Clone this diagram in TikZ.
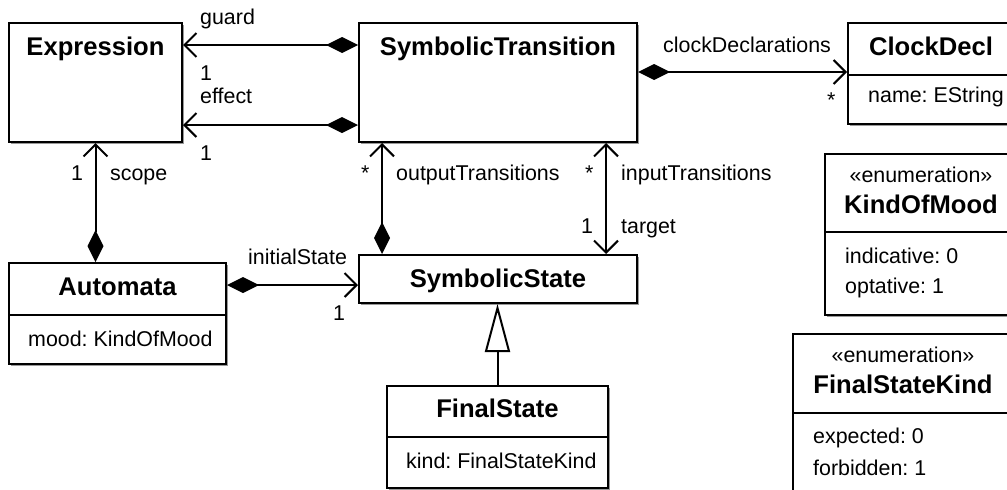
\documentclass[tikz,border=0pt]{standalone}
\usepackage{fontspec}
\setmainfont{Liberation Sans}
\frenchspacing
\usetikzlibrary{arrows.meta,shadows}

\begin{document}
\begin{tikzpicture}[x=1pt, y=-1pt,
  umlbox/.style={draw, line width=2pt, fill=white, inner sep=0pt,
    drop shadow={shadow xshift=2pt, shadow yshift=-2pt, fill=black!40, opacity=1}},
  ttl/.style={font=\fontsize{25.6}{30}\selectfont\bfseries, inner sep=0pt, anchor=base},
  txt/.style={font=\fontsize{21.4}{25}\selectfont, inner sep=0pt, anchor=base west},
  divider/.style={line width=2pt},
  comp/.style={line width=2pt, {Diamond[length=32pt, width=16pt]}-{Straight Barb[length=12pt, width=24pt]}},
  nav/.style={line width=2pt, {Straight Barb[length=12pt, width=24pt]}-{Straight Barb[length=12pt, width=24pt]}},
  gen/.style={line width=2pt, -{Triangle[open, length=48pt, width=25pt, fill=white]}}]
        \useasboundingbox (0,0) rectangle (1007,490);
        \clip (0,0) rectangle (1007,490);

        % Classes
        \node[umlbox, minimum width=173, minimum height=119] (expr) at (95.5,82.5) {};
        \node[ttl] (exprname) at (expr.center |- 0,55) {Expression};

        \node[umlbox, minimum width=278, minimum height=119] (trans) at (498,82.5) {};
        \node[ttl] (transname) at (trans.center |- 0,55) {SymbolicTransition};

        \node[umlbox, minimum width=166, minimum height=101] (clock) at (931,73.5) {};
        \node[ttl] (clockname) at (clock.center |- 0,55) {ClockDecl};
        \draw[divider] (clock.west |- 0,75) -- (clock.east |- 0,75);
        \node[txt] (clockattr) at (868,102) {name: EString};

        \node[umlbox, minimum width=217, minimum height=101] (automata) at (117.5,313.5) {};
        \node[ttl] (automataname) at (automata.center |- 0,295) {Automata};
        \draw[divider] (automata.west |- 0,315) -- (automata.east |- 0,315);
        \node[txt] (automataattr) at (28,346) {mood: KindOfMood};

        \node[umlbox, minimum width=278, minimum height=48] (state) at (498,279) {};
        \node[ttl] (statename) at (state.center |- 0,287) {SymbolicState};

        \node[umlbox, minimum width=221, minimum height=102] (final) at (497.5,437) {};
        \node[ttl] (finalname) at (final.center |- 0,417) {FinalState};
        \draw[divider] (final.west |- 0,437) -- (final.east |- 0,437);
        \node[txt] (finalattr) at (406,468) {kind: FinalStateKind};

        % Enumerations
        \node[umlbox, minimum width=192, minimum height=161] (mood) at (921,234.5) {};
        \node[txt, anchor=base] (moodstereo) at (mood.center |- 0,182) {«enumeration»};
        \node[ttl] (moodname) at (mood.center |- 0,213) {KindOfMood};
        \draw[divider] (mood.west |- 0,232) -- (mood.east |- 0,232);
        \node[txt] (moodlit1) at (845,263) {indicative: 0};
        \node[txt] (moodlit2) at (845,293) {optative: 1};

        \node[umlbox, minimum width=220, minimum height=200] (finalkind) at (903,434) {};
        \node[txt, anchor=base] (finalkindstereo) at (finalkind.center |- 0,362) {«enumeration»};
        \node[ttl] (finalkindname) at (finalkind.center |- 0,393) {FinalStateKind};
        \draw[divider] (finalkind.west |- 0,413) -- (finalkind.east |- 0,413);
        \node[txt] (finalkindlit1) at (813,443) {expected: 0};
        \node[txt] (finalkindlit2) at (813,475) {forbidden: 1};

        % Associations
        \draw[comp] (trans.west |- 0,45) -- (expr.east |- 0,45);
        \node[txt] (guardlbl) at (200,24) {guard};
        \node[txt] (guardmult) at (200,80) {1};

        \draw[comp] (trans.west |- 0,125) -- (expr.east |- 0,125);
        \node[txt] (effectlbl) at (200,103) {effect};
        \node[txt] (effectmult) at (200,160) {1};

        \draw[comp] (automata.north -| expr.south) -- (expr.south);
        \node[txt] (scopemult) at (71,180) {1};
        \node[txt] (scopelbl) at (110,180) {scope};

        \draw[comp] (state.north -| 382,0) -- (trans.south -| 382,0);
        \node[txt] (outmult) at (361,180) {*};
        \node[txt] (outlbl) at (396,180) {outputTransitions};

        \draw[nav] (trans.south -| 606,0) -- (state.north -| 606,0);
        \node[txt] (inmult) at (585,180) {*};
        \node[txt] (inlbl) at (621,180) {inputTransitions};
        \node[txt] (targetmult) at (581,233) {1};
        \node[txt] (targetlbl) at (621,233) {target};

        \draw[comp] (trans.east |- 0,72) -- (clock.west |- 0,72);
        \node[txt] (clocklbl) at (663,52) {clockDeclarations};
        \node[txt] (clockmult) at (827,107) {*};

        \draw[comp] (automata.east |- 0,285) -- (state.west |- 0,285);
        \node[txt] (initlbl) at (248,264) {initialState};
        \node[txt] (initmult) at (333,320) {1};

        % Generalization
        \draw[gen] (final.north) -- (final.north |- state.south);
      \end{tikzpicture}
\end{document}
